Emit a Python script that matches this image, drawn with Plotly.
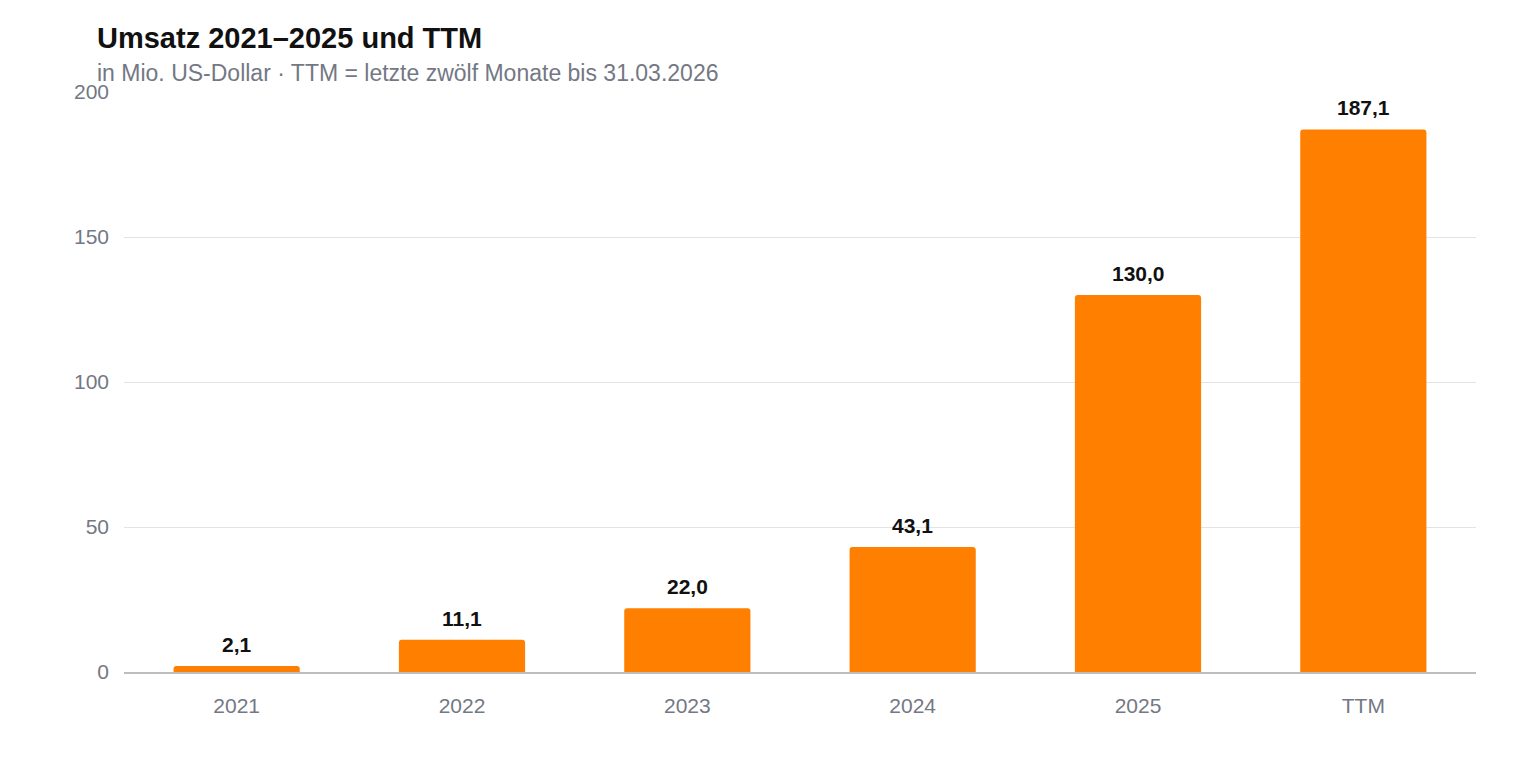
import plotly.graph_objects as go

categories = ["2021", "2022", "2023", "2024", "2025", "TTM"]
revenue = [2.1, 11.1, 22.0, 43.1, 130.0, 187.1]
labels = ["2,1", "11,1", "22,0", "43,1", "130,0", "187,1"]
y_ticks = [0, 50, 100, 150, 200]

FONT = "Liberation Sans, Arial, sans-serif"

L, R, T, B = 124, 44, 92, 88
W, H = 1520, 760
PW, PH = W - L - R, H - T - B


def px_to_paper(px, py):
    return (px - L) / PW, (H - B - py) / PH


fig = go.Figure(
    go.Bar(
        x=categories,
        y=revenue,
        marker=dict(color="#FF7F00", line=dict(width=0)),
        width=0.56,
        hoverinfo="skip",
    )
)

# category axis: annotation x given as category index
for i, (v, t) in enumerate(zip(revenue, labels)):
    fig.add_annotation(
        x=i, y=v, text=t, showarrow=False, yanchor="bottom", yshift=8,
        font=dict(family=FONT, size=21, color="#111111", weight=600),
    )

tx, ty = px_to_paper(95, 38)
fig.add_annotation(
    xref="paper", yref="paper", x=tx, y=ty,
    xanchor="left", yanchor="middle", showarrow=False,
    text="Umsatz 2021–2025 und TTM",
    font=dict(family=FONT, size=29, color="#111111", weight=600),
)
sx, sy = px_to_paper(95, 73)
fig.add_annotation(
    xref="paper", yref="paper", x=sx, y=sy,
    xanchor="left", yanchor="middle", showarrow=False,
    text="in Mio. US-Dollar · TTM = letzte zwölf Monate bis 31.03.2026",
    font=dict(family=FONT, size=23, color="#737884"),
)

fig.update_layout(
    width=W, height=H,
    margin=dict(l=L, r=R, t=T, b=B),
    paper_bgcolor="white", plot_bgcolor="white",
    showlegend=False,
    barcornerradius=3,
    font=dict(family=FONT, size=21, color="#737884"),
    xaxis=dict(
        type="category", range=[-0.5, len(categories) - 0.5],
        showgrid=False, showline=True, linecolor="#BDBDBD", linewidth=2,
        ticks="", tickfont=dict(family=FONT, size=21, color="#737884"),
        ticklabelstandoff=14,
    ),
    yaxis=dict(
        range=[0, 200], tickvals=y_ticks, showgrid=True, gridcolor="#E3E3E3",
        gridwidth=1, zeroline=False, showline=False, ticks="",
        tickfont=dict(family=FONT, size=21, color="#737884"),
        ticklabelstandoff=14,
    ),
)

fig.write_html("out.html")
